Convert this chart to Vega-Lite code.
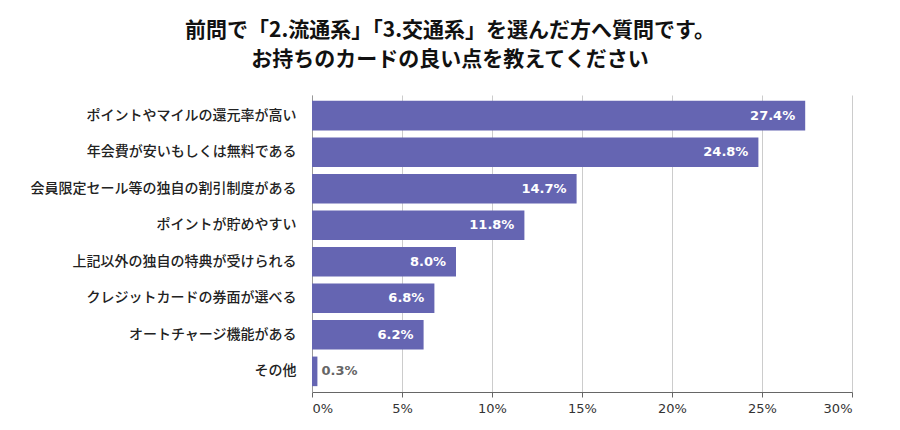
{
  "$schema": "https://vega.github.io/schema/vega-lite/v6.json",
  "autosize": "none",
  "width": 540,
  "height": 297,
  "padding": {"left": 312, "top": 95, "right": 48, "bottom": 38},
  "background": "#ffffff",
  "title": {
    "text": ["前問で「2.流通系」「3.交通系」を選んだ方へ質問です。", "お持ちのカードの良い点を教えてください"],
    "font": "Noto Sans CJK JP",
    "fontSize": 21,
    "fontWeight": "bold",
    "color": "#111111",
    "anchor": "middle",
    "frame": "group",
    "dx": -132,
    "offset": 25,
    "lineHeight": 29,
    "letterSpacing": 1.5
  },
  "data": {
    "values": [
      {"item": "ポイントやマイルの還元率が高い", "value": 27.4},
      {"item": "年会費が安いもしくは無料である", "value": 24.8},
      {"item": "会員限定セール等の独自の割引制度がある", "value": 14.7},
      {"item": "ポイントが貯めやすい", "value": 11.8},
      {"item": "上記以外の独自の特典が受けられる", "value": 8.0},
      {"item": "クレジットカードの券面が選べる", "value": 6.8},
      {"item": "オートチャージ機能がある", "value": 6.2},
      {"item": "その他", "value": 0.3}
    ]
  },
  "transform": [
    {"calculate": "format(datum.value, '.1f') + '%'", "as": "label"}
  ],
  "encoding": {
    "y": {
      "field": "item",
      "type": "nominal",
      "sort": null,
      "scale": {"paddingInner": 0.19, "paddingOuter": 0.16},
      "axis": {
        "title": null,
        "ticks": false,
        "labelFont": "Noto Sans CJK JP",
        "labelFontSize": 14,
        "labelFontWeight": 500,
        "labelColor": "#222222",
        "labelPadding": 16,
        "labelLimit": 300,
        "domainColor": "#999999",
        "grid": false
      }
    },
    "x": {
      "field": "value",
      "type": "quantitative",
      "scale": {"domain": [0, 30], "nice": false},
      "axis": {
        "title": null,
        "values": [0, 5, 10, 15, 20, 25, 30],
        "labelExpr": "datum.value + '%'",
        "grid": true,
        "gridColor": "#cccccc",
        "domainColor": "#666666",
        "tickColor": "#666666",
        "tickSize": 5,
        "labelFont": "DejaVu Sans",
        "labelFontSize": 13,
        "labelColor": "#333333",
        "labelPadding": 5
      }
    }
  },
  "layer": [
    {"mark": {"type": "bar", "color": "#6565b2"}},
    {
      "transform": [{"filter": "datum.value >= 1"}],
      "mark": {"type": "text", "align": "right", "dx": -10, "font": "DejaVu Sans", "fontWeight": "bold", "fontSize": 13, "letterSpacing": 1, "color": "#ffffff"},
      "encoding": {"text": {"field": "label"}}
    },
    {
      "transform": [{"filter": "datum.value < 1"}],
      "mark": {"type": "text", "align": "left", "dx": 4, "font": "DejaVu Sans", "fontWeight": "bold", "fontSize": 13, "letterSpacing": 1, "color": "#666666"},
      "encoding": {"text": {"field": "label"}}
    }
  ],
  "config": {"view": {"stroke": null}}
}
